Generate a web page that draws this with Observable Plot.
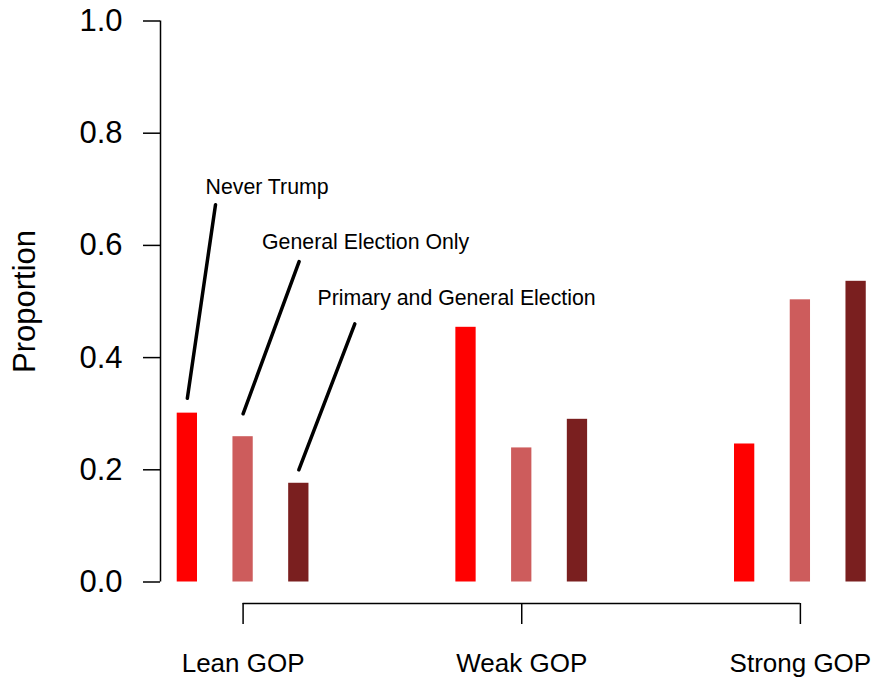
<!DOCTYPE html>
<html>
<head>
<meta charset="utf-8">
<script src="https://cdn.jsdelivr.net/npm/d3@7"></script>
<script src="https://cdn.jsdelivr.net/npm/@observablehq/plot@0.6"></script>
<style>
  html, body { margin: 0; padding: 0; background: #ffffff; }
  #chart { width: 876px; height: 684px; }
</style>
</head>
<body>
<div id="chart"></div>
<script>
// ---- Data ----
const groups = ["Lean GOP", "Weak GOP", "Strong GOP"];
const series = ["Never Trump", "General Election Only", "Primary and General Election"];
const neverTrump = [0.301, 0.454, 0.246];
const generalOnly = [0.259, 0.239, 0.503];
const primaryGeneral = [0.176, 0.290, 0.536];
const colors = ["#FF0000", "#CD5C5C", "#7A1F1F"];
const yTicks = [0, 0.2, 0.4, 0.6, 0.8, 1.0];

// annotation labels (in data units, like R's text()/segments())
const labelX = [0.326, 1.34, 2.335];
const labelY = [0.7035, 0.6055, 0.5057];
const leaderX1 = [0, 1, 2];
const leaderY1 = [0.3276, 0.2998, 0.2];
const leaderX2 = [0.505, 2.005, 3.005];
const leaderY2 = [0.6724, 0.571, 0.4602];

// ---- Build table ----
const seriesValues = [neverTrump, generalOnly, primaryGeneral];
const groupGap = 5;     // slot index spacing between groups
const halfBar = 0.182;  // half bar width in slot units
const bars = [];
groups.forEach((g, gi) => {
  series.forEach((s, si) => {
    bars.push({group: g, series: s, pos: gi * groupGap + si, value: seriesValues[si][gi]});
  });
});
const groupPos = groups.map((g, gi) => gi * groupGap + 1);
const annotations = series.map((s, i) => ({
  label: s, x: labelX[i], y: labelY[i],
  x1: leaderX1[i], y1: leaderY1[i], x2: leaderX2[i], y2: leaderY2[i]
}));

const xMin = -0.482, xMax = 12.007;
const font = "'Liberation Sans', Arial, Helvetica, sans-serif";

const chart = Plot.plot({
  width: 876,
  height: 684,
  marginLeft: 160,
  marginRight: 20,
  marginTop: 20,
  marginBottom: 81,
  style: {fontFamily: font, background: "#ffffff", color: "#000000"},
  x: {domain: [xMin, xMax], axis: null},
  y: {domain: [0, 1], range: [581.5, 20.5], axis: null},
  color: {domain: series, range: colors},
  marks: [
    Plot.rect(bars, {
      x1: d => d.pos - halfBar,
      x2: d => d.pos + halfBar,
      y1: 0,
      y2: "value",
      fill: "series"
    }),
    Plot.ruleX([xMin], {y1: 0, y2: 1, strokeWidth: 1.5}),
    Plot.axisY({
      ticks: yTicks,
      tickFormat: d3.format(".1f"),
      tickSize: 17,
      tickPadding: 21,
      fontSize: 31,
      strokeWidth: 1.5,
      label: null
    }),
    Plot.ruleY([0], {x1: groupPos[0], x2: groupPos[groupPos.length - 1], dy: 21.5, strokeWidth: 1.5}),
    Plot.axisX({
      ticks: groupPos,
      tickFormat: (d) => groups[groupPos.indexOf(d)],
      tickSize: 21,
      tickPadding: 29,
      fontSize: 26,
      strokeWidth: 1.5,
      label: null
    }),
    Plot.text(["Proportion"], {
      x: xMin, y: 0.5, text: d => d, rotate: -90, dx: -135,
      fontSize: 31, textAnchor: "middle"
    }),
    Plot.link(annotations, {
      x1: "x1", y1: "y1", x2: "x2", y2: "y2",
      stroke: "#000000", strokeWidth: 3.5, strokeLinecap: "round"
    }),
    Plot.text(annotations, {
      x: "x", y: "y", text: "label", textAnchor: "start",
      fontSize: 21.3, fill: "#000000"
    })
  ]
});
document.getElementById("chart").appendChild(chart);
</script>
</body>
</html>
